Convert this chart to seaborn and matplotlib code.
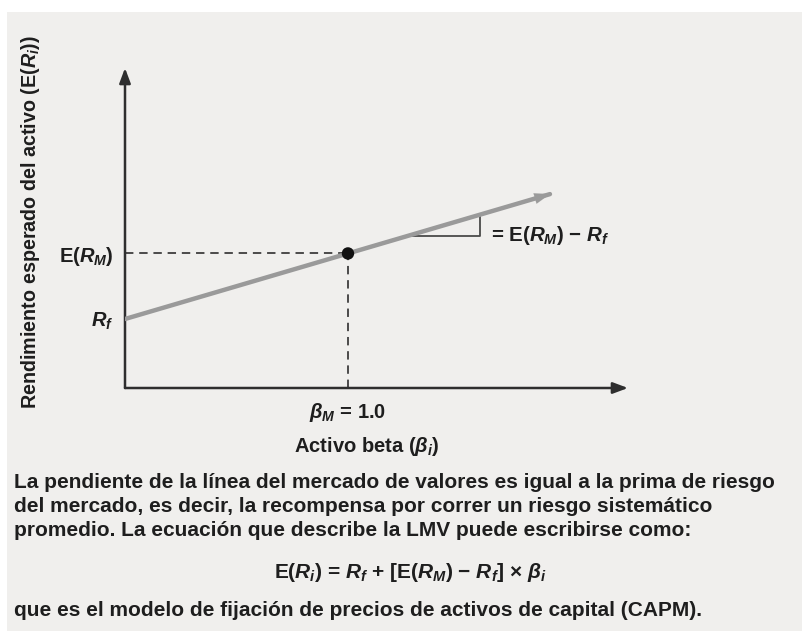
import matplotlib
matplotlib.use("Agg")
import matplotlib.pyplot as plt
import seaborn as sns
import pandas as pd
from matplotlib.patches import Rectangle

# ---------------- data ----------------
sml_beta = [0.0, 1.906]          # security market line: start / end beta
sml_return = [4.0, 11.24]        # expected return at those betas
rf = 4.0                         # risk-free rate
erm = 7.8                        # expected market return
beta_market = [1.0]
market_return = [7.8]
tri_beta = [1.27, 1.59]          # slope triangle betas
tri_return = [8.83, 10.04]       # SML values at those betas
x_max = 2.256
y_max = 18.55
ytick_values = [rf, erm]
ytick_labels = [r"$R_f$", r"E($R_M$)"]
xtick_values = [1.0]
xtick_labels = [r"$\beta_M$ = 1.0"]
x_label = r"Activo beta ($\beta_i$)"
y_label = r"Rendimiento esperado del activo (E($R_i$))"
slope_label = r"= E($R_M$) − $R_f$"
paragraph = [
    "La pendiente de la línea del mercado de valores es igual a la prima de riesgo",
    "del mercado, es decir, la recompensa por correr un riesgo sistemático",
    "promedio. La ecuación que describe la LMV puede escribirse como:",
]
equation = r"E($R_i$) = $R_f$ + [E($R_M$) − $R_f$] × $\beta_i$"
closing = "que es el modelo de fijación de precios de activos de capital (CAPM)."

# ---------------- style ----------------
sns.set_theme(style="white")
plt.rcParams["font.family"] = ["Liberation Sans", "DejaVu Sans"]
plt.rcParams["font.weight"] = "bold"
plt.rcParams["axes.labelweight"] = "bold"
plt.rcParams["mathtext.fontset"] = "custom"
plt.rcParams["mathtext.rm"] = "Liberation Sans:bold"
plt.rcParams["mathtext.it"] = "Liberation Sans:italic:bold"
plt.rcParams["mathtext.bf"] = "Liberation Sans:bold"

BG = "#f0efed"
AX = "#2e2e2e"
TXT = "#1e1e1e"
W, H = 803, 631

fig = plt.figure(figsize=(W / 100, H / 100), dpi=100, facecolor="white")
fig.patches.append(Rectangle((7 / W, 0), 1 - 7 / W, 1 - 12 / H, transform=fig.transFigure,
                             facecolor=BG, edgecolor="none", zorder=-10))

left, bottom = 125 / W, (H - 388) / H
ax = fig.add_axes([left, bottom, (628 - 125) / W, (388 - 68) / H])
ax.set_facecolor("none")
ax.set_xlim(0, x_max)
ax.set_ylim(0, y_max)
for s in ax.spines.values():
    s.set_visible(False)

# axes arrows
arrow_kw = dict(arrowstyle="-|>,head_length=0.75,head_width=0.28", color=AX, lw=1.8,
                mutation_scale=12, shrinkA=0, shrinkB=0)
ax.annotate("", xy=(0, 1), xytext=(0, 0), xycoords="axes fraction", arrowprops=arrow_kw)
ax.annotate("", xy=(1, 0), xytext=(0, 0), xycoords="axes fraction", arrowprops=arrow_kw)

# SML
df = pd.DataFrame({"beta": sml_beta, "ret": sml_return})
sns.lineplot(data=df, x="beta", y="ret", ax=ax, color="#9a9a9a", lw=3.2, zorder=3)
slope = (sml_return[1] - sml_return[0]) / (sml_beta[1] - sml_beta[0])
ax.annotate("", xy=(sml_beta[1], sml_return[1]),
            xytext=(sml_beta[1] - 0.05, sml_return[1] - 0.05 * slope),
            arrowprops=dict(arrowstyle="-|>,head_length=0.85,head_width=0.3", color="#9a9a9a",
                            lw=0.1, mutation_scale=13, shrinkA=0, shrinkB=0), zorder=3)

# dashed guides
dash = (0, (5.5, 3.8))
ax.plot([0, beta_market[0]], [market_return[0]] * 2, ls=dash, color=TXT, lw=1.1, zorder=2)
ax.plot([beta_market[0]] * 2, [0, market_return[0]], ls=dash, color=TXT, lw=1.1, zorder=2)

# market point
sns.scatterplot(x=beta_market, y=market_return, ax=ax, color="#111111", s=80,
                edgecolor="none", zorder=5)

# slope triangle
ax.plot([tri_beta[0], tri_beta[1], tri_beta[1]],
        [tri_return[0], tri_return[0], tri_return[1]], color="#4a4a4a", lw=1.3, zorder=2)
ax.text(tri_beta[1] + 0.05, tri_return[0], slope_label, fontsize=14.8, color=TXT,
        va="center", ha="left")

# ticks
ax.set_yticks(ytick_values, labels=ytick_labels)
ax.set_xticks(xtick_values, labels=xtick_labels)
ax.tick_params(axis="both", length=0, labelsize=14.5, labelcolor=TXT)
ax.tick_params(axis="y", pad=8)
ax.tick_params(axis="x", pad=9)

ax.set_xlabel(x_label, fontsize=14.5, color=TXT)
ax.xaxis.set_label_coords((367 - 125) / (628 - 125), -(447 - 388) / (388 - 68), transform=ax.transAxes)
ax.xaxis.label.set_va("center")
ax.set_ylabel(y_label, fontsize=14.2, color=TXT)
ax.yaxis.set_label_coords(-(125 - 30) / (628 - 125), (388 - 222) / (388 - 68), transform=ax.transAxes)
ax.yaxis.label.set_va("center")

# paragraph
for i, line in enumerate(paragraph):
    fig.text(14 / W, 1 - (483 + 24 * i) / H, line, fontsize=15, color=TXT, va="center", ha="left")
fig.text(410 / W, 1 - 573 / H, equation, fontsize=15, color=TXT, va="center", ha="center")
fig.text(14 / W, 1 - 611 / H, closing, fontsize=15, color=TXT, va="center", ha="left")

fig.savefig("out.png", dpi=100, facecolor=fig.get_facecolor())
